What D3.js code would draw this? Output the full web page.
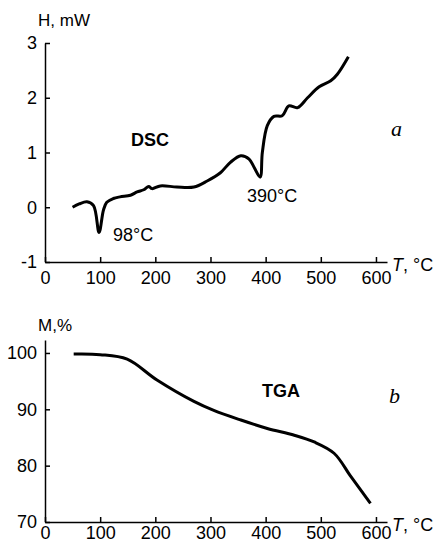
<!DOCTYPE html>
<html>
<head>
<meta charset="utf-8">
<script src="https://cdn.jsdelivr.net/npm/d3@7"></script>
<style>
  body { margin: 0; background: #fff; }
  svg { display: block; font-family: "Liberation Sans", Arial, sans-serif; }
</style>
</head>
<body>
<svg id="chart"></svg>
<script>
// DSC trace (T in °C, heat flow in mW)
var dscT = [50, 62, 76, 88, 98, 106, 112, 124, 136, 155, 167, 179, 188, 194, 209, 239, 270, 294, 318, 336, 355, 370, 379, 390, 394, 403, 415, 430, 442, 458, 476, 497, 518, 530, 550]
var dscH = [0.0, 0.06, 0.1, 0.03, -0.46, -0.05, 0.09, 0.16, 0.19, 0.22, 0.28, 0.32, 0.38, 0.34, 0.39, 0.37, 0.37, 0.48, 0.63, 0.82, 0.94, 0.88, 0.73, 0.55, 1.0, 1.49, 1.66, 1.67, 1.85, 1.82, 2.0, 2.2, 2.31, 2.43, 2.75]

// TGA trace (T in °C, mass in %)
var tgaT = [52, 100, 149, 203, 270, 306, 355, 403, 452, 488, 524, 555, 590]
var tgaM = [99.8, 99.7, 98.9, 95.2, 91.4, 89.8, 88.1, 86.6, 85.4, 84.2, 82.2, 78.0, 73.3]

var xTicks = [0, 100, 200, 300, 400, 500, 600]
var dscTicks = [-1, 0, 1, 2, 3]
var tgaTicks = [70, 80, 90, 100]

var svg = d3.select("#chart")
    .attr("width", 445)
    .attr("height", 547)

var x = d3.scaleLinear().domain([0, 620]).range([45, 387])
var yTop = d3.scaleLinear().domain([-1, 3]).range([262, 43])
var yBot = d3.scaleLinear().domain([70, 102.3]).range([522, 340])

var fmt = d => String(d)   // plain hyphen minus, no decimals

function drawAxes(y, yTicks, xPad) {
    var xa = svg.append("g")
        .attr("transform", "translate(0," + y.range()[0] + ")")
        .call(d3.axisBottom(x).tickValues(xTicks).tickFormat(fmt)
            .tickSizeInner(-5).tickSizeOuter(0).tickPadding(xPad))
    var ya = svg.append("g")
        .attr("transform", "translate(" + x.range()[0] + ",0)")
        .call(d3.axisLeft(y).tickValues(yTicks).tickFormat(fmt)
            .tickSizeInner(-5).tickSizeOuter(0).tickPadding(8))
    ;[xa, ya].forEach(function (g) {
        g.attr("font-family", null).attr("font-size", 18)
        g.selectAll("path, line").attr("stroke", "#000").attr("stroke-width", 1.5)
        g.selectAll("text").attr("fill", "#000")
    })
    svg.append("text")
        .attr("x", 392)
        .attr("y", y.range()[0] + 9)
        .attr("font-size", 18)
        .html('<tspan font-style="italic">T</tspan>, °C')
}

drawAxes(yTop, dscTicks, 9)
drawAxes(yBot, tgaTicks, 4)

var line = d3.line().curve(d3.curveCatmullRom.alpha(0.5))

svg.append("path")
    .attr("d", line(dscT.map((t, i) => [x(t), yTop(dscH[i])])))
    .attr("fill", "none")
    .attr("stroke", "#000")
    .attr("stroke-width", 3)
    .attr("stroke-linejoin", "round")

svg.append("path")
    .attr("d", line(tgaT.map((t, i) => [x(t), yBot(tgaM[i])])))
    .attr("fill", "none")
    .attr("stroke", "#000")
    .attr("stroke-width", 3)
    .attr("stroke-linejoin", "round")

// labels
var labels = [
    {t: "H, mW", x: 38, y: 26, s: 17},
    {t: "M,%", x: 38, y: 331, s: 17},
    {t: "98°C", x: 113, y: 241, s: 18},
    {t: "390°C", x: 247, y: 202, s: 18}
]
labels.forEach(function (d) {
    svg.append("text").attr("x", d.x).attr("y", d.y).attr("font-size", d.s).text(d.t)
})

svg.append("text").attr("x", 150).attr("y", 146).attr("text-anchor", "middle")
    .attr("font-size", 18).attr("font-weight", "bold").text("DSC")
svg.append("text").attr("x", 281).attr("y", 397).attr("text-anchor", "middle")
    .attr("font-size", 18).attr("font-weight", "bold").text("TGA")

svg.append("text").attr("x", 391).attr("y", 136)
    .attr("font-family", "'Liberation Serif', 'DejaVu Serif', serif")
    .attr("font-style", "italic").attr("font-size", 22).text("a")
svg.append("text").attr("x", 389).attr("y", 403)
    .attr("font-family", "'Liberation Serif', 'DejaVu Serif', serif")
    .attr("font-style", "italic").attr("font-size", 22).text("b")
</script>
</body>
</html>
